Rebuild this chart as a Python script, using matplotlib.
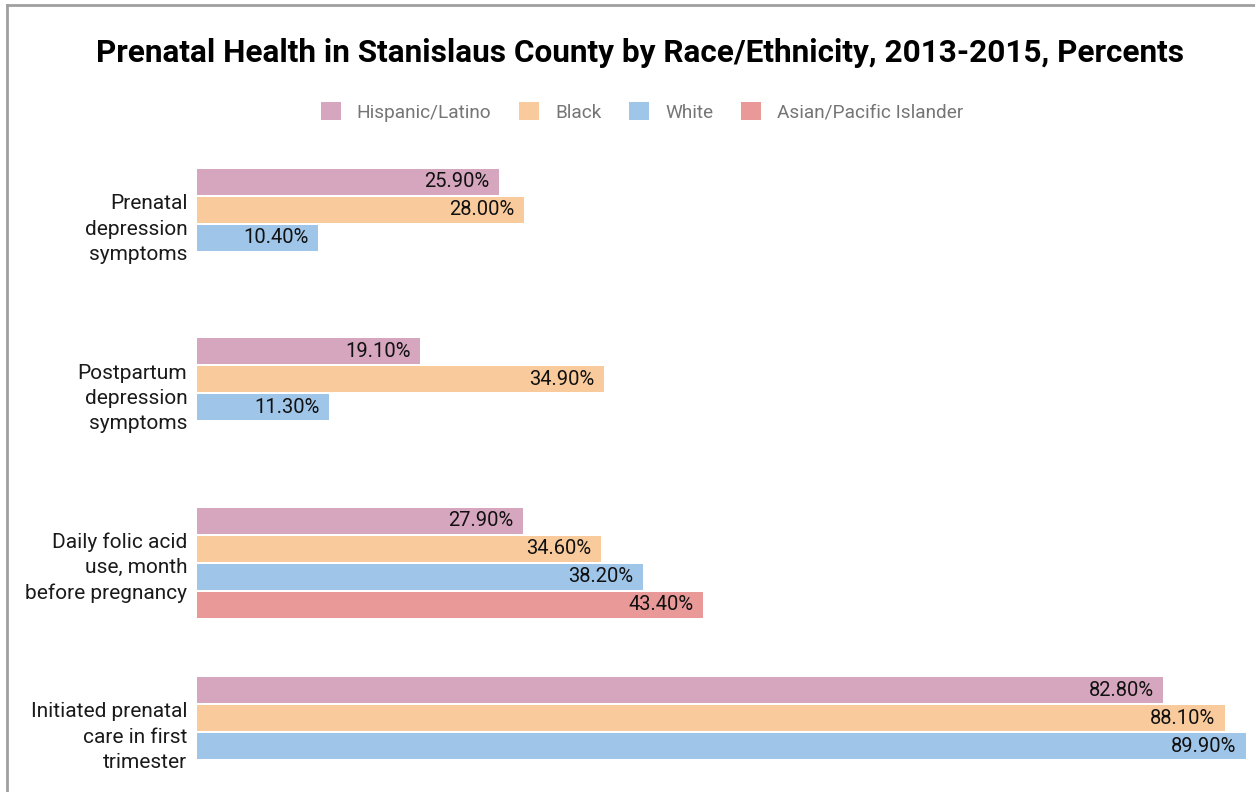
import numpy as np
import matplotlib.pyplot as plt
from matplotlib.patches import Patch
from matplotlib.lines import Line2D

categories = ["Prenatal\ndepression\nsymptoms",
              "Postpartum\ndepression\nsymptoms",
              "Daily folic acid\nuse, month\nbefore pregnancy",
              "Initiated prenatal\ncare in first\ntrimester"]
series = ["Hispanic/Latino", "Black", "White", "Asian/Pacific Islander"]
hispanic = [25.9, 19.1, 27.9, 82.8]
black = [28.0, 34.9, 34.6, 88.1]
white = [10.4, 11.3, 38.2, 89.9]
asian = [np.nan, np.nan, 43.4, np.nan]
colors = ["#d5a6bd", "#f9cb9c", "#9fc5e8", "#ea9999"]

plt.rcParams['font.family'] = ['Roboto', 'DejaVu Sans']

W, H = 1255, 792
fig = plt.figure(figsize=(W / 100, H / 100), dpi=100)

# axes placed in pixels: top edge at y=154, left at x=197
ax = fig.add_axes([197 / W, 0, 1050 / W, 638 / H])
group_step = 6.05
y0 = np.arange(len(categories)) * group_step

for k, (name, vals) in enumerate(zip(series, [hispanic, black, white, asian])):
    ys = y0 + k
    for y, v in zip(ys, vals):
        if np.isnan(v):
            continue
        ax.barh(y, v, height=0.92, color=colors[k], edgecolor="none")
        ax.text(v - 0.8, y, f"{v:.2f}%", ha="right", va="center",
                fontsize=14.5, color="#111111")

ax.set_xlim(0, 90)
ax.set_ylim(21.79, -1.0)
ax.set_yticks(y0 + 1.5)
ax.set_yticklabels(categories, fontsize=15, color="#1a1a1a", linespacing=1.42)
ax.tick_params(axis="y", length=0, pad=7)
ax.set_xticks([])
for s in ax.spines.values():
    s.set_visible(False)

fig.text(640 / W, 1 - 53 / H,
         "Prenatal Health in Stanislaus County by Race/Ethnicity, 2013-2015, Percents",
         ha="center", va="center", fontsize=22.7, fontweight="bold", color="#000000")

handles = [Patch(facecolor=c, edgecolor="none") for c in colors]
fig.legend(handles, series, loc="center", bbox_to_anchor=(642 / W, 1 - 112 / H),
           ncol=4, frameon=False, fontsize=13.7, labelcolor="#757575",
           handlelength=1.05, handleheight=1.05, handletextpad=0.85, columnspacing=1.45)

# outer border (left and top)
fig.add_artist(Line2D([7 / W, 7 / W], [0, 1 - 5 / H], color="#a0a0a0", lw=2))
fig.add_artist(Line2D([7 / W, 1], [1 - 5 / H, 1 - 5 / H], color="#a0a0a0", lw=2))

fig.savefig("out.png", dpi=100)
